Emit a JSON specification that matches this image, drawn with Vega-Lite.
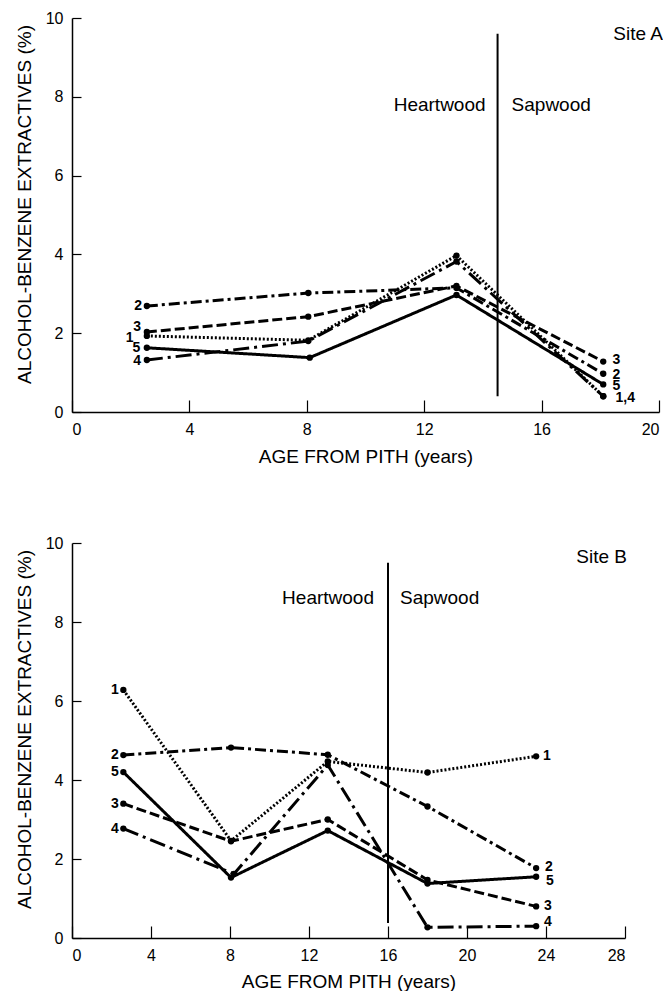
{
  "$schema": "https://vega.github.io/schema/vega-lite/v6.json",
  "background": "white",
  "padding": {"top": 10, "left": 15, "right": 0, "bottom": 0},
  "spacing": 69,
  "config": {
    "font": "Liberation Sans",
    "view": {"stroke": null},
    "axis": {
      "grid": false,
      "domainColor": "black",
      "domainWidth": 1.5,
      "tickColor": "black",
      "tickWidth": 1.2,
      "labelColor": "black",
      "titleColor": "black",
      "labelFontSize": 16,
      "titleFontSize": 19,
      "titleFontWeight": "normal",
      "labelFont": "Liberation Sans",
      "titleFont": "Liberation Sans"
    }
  },
  "datasets": {
    "curves": [
      {"site": "A", "series": "1", "age": 2.55, "value": 1.93},
      {"site": "A", "series": "1", "age": 8.05, "value": 1.82},
      {"site": "A", "series": "1", "age": 13.1, "value": 3.97},
      {"site": "A", "series": "1", "age": 18.1, "value": 0.4},
      {"site": "A", "series": "2", "age": 2.55, "value": 2.69},
      {"site": "A", "series": "2", "age": 8.05, "value": 3.02},
      {"site": "A", "series": "2", "age": 13.1, "value": 3.15},
      {"site": "A", "series": "2", "age": 18.1, "value": 0.97},
      {"site": "A", "series": "3", "age": 2.55, "value": 2.03},
      {"site": "A", "series": "3", "age": 8.05, "value": 2.42},
      {"site": "A", "series": "3", "age": 13.1, "value": 3.2},
      {"site": "A", "series": "3", "age": 18.1, "value": 1.28},
      {"site": "A", "series": "4", "age": 2.55, "value": 1.32},
      {"site": "A", "series": "4", "age": 8.05, "value": 1.8},
      {"site": "A", "series": "4", "age": 13.1, "value": 3.82},
      {"site": "A", "series": "4", "age": 18.1, "value": 0.4},
      {"site": "A", "series": "5", "age": 2.55, "value": 1.63},
      {"site": "A", "series": "5", "age": 8.1, "value": 1.38},
      {"site": "A", "series": "5", "age": 13.1, "value": 2.97},
      {"site": "A", "series": "5", "age": 18.1, "value": 0.7},
      {"site": "B", "series": "1", "age": 2.6, "value": 6.28},
      {"site": "B", "series": "1", "age": 8.05, "value": 2.46},
      {"site": "B", "series": "1", "age": 12.95, "value": 4.47},
      {"site": "B", "series": "1", "age": 18.0, "value": 4.19},
      {"site": "B", "series": "1", "age": 23.5, "value": 4.6},
      {"site": "B", "series": "2", "age": 2.6, "value": 4.63},
      {"site": "B", "series": "2", "age": 8.05, "value": 4.82},
      {"site": "B", "series": "2", "age": 12.95, "value": 4.64},
      {"site": "B", "series": "2", "age": 18.0, "value": 3.33},
      {"site": "B", "series": "2", "age": 23.5, "value": 1.77},
      {"site": "B", "series": "3", "age": 2.6, "value": 3.4},
      {"site": "B", "series": "3", "age": 8.05, "value": 2.45},
      {"site": "B", "series": "3", "age": 12.95, "value": 3.0},
      {"site": "B", "series": "3", "age": 18.0, "value": 1.47},
      {"site": "B", "series": "3", "age": 23.5, "value": 0.8},
      {"site": "B", "series": "4", "age": 2.6, "value": 2.77},
      {"site": "B", "series": "4", "age": 8.2, "value": 1.62},
      {"site": "B", "series": "4", "age": 12.95, "value": 4.38},
      {"site": "B", "series": "4", "age": 18.0, "value": 0.27},
      {"site": "B", "series": "4", "age": 23.5, "value": 0.3},
      {"site": "B", "series": "5", "age": 2.6, "value": 4.2},
      {"site": "B", "series": "5", "age": 8.05, "value": 1.53},
      {"site": "B", "series": "5", "age": 12.95, "value": 2.72},
      {"site": "B", "series": "5", "age": 18.0, "value": 1.38},
      {"site": "B", "series": "5", "age": 23.5, "value": 1.55}
    ],
    "tags": [
      {"site": "A", "tag": "2", "age": 2.25, "value": 2.7},
      {"site": "A", "tag": "3", "age": 2.22, "value": 2.15},
      {"site": "A", "tag": "1", "age": 1.96, "value": 1.88},
      {"site": "A", "tag": "5", "age": 2.19, "value": 1.62},
      {"site": "A", "tag": "4", "age": 2.22, "value": 1.29},
      {"site": "A", "tag": "3", "age": 18.55, "value": 1.31},
      {"site": "A", "tag": "2", "age": 18.55, "value": 0.95},
      {"site": "A", "tag": "5", "age": 18.55, "value": 0.66},
      {"site": "A", "tag": "1,4", "age": 18.85, "value": 0.35},
      {"site": "B", "tag": "1", "age": 2.17, "value": 6.29},
      {"site": "B", "tag": "2", "age": 2.17, "value": 4.63},
      {"site": "B", "tag": "5", "age": 2.17, "value": 4.19},
      {"site": "B", "tag": "3", "age": 2.17, "value": 3.4},
      {"site": "B", "tag": "4", "age": 2.17, "value": 2.76},
      {"site": "B", "tag": "1", "age": 24.05, "value": 4.6},
      {"site": "B", "tag": "2", "age": 24.15, "value": 1.8},
      {"site": "B", "tag": "5", "age": 24.2, "value": 1.45},
      {"site": "B", "tag": "3", "age": 24.1, "value": 0.8},
      {"site": "B", "tag": "4", "age": 24.1, "value": 0.4}
    ],
    "zones": [
      {"site": "A", "boundary": 14.5, "low": 0.4, "high": 9.6, "textY": 7.78, "siteLabel": "Site A", "siteX": 20, "siteY": 9.6},
      {"site": "B", "boundary": 16, "low": 0.38, "high": 9.5, "textY": 8.6, "siteLabel": "Site B", "siteX": 28, "siteY": 9.65}
    ]
  },
  "vconcat": [
    {
      "width": 587,
      "height": 394,
      "encoding": {
        "x": {"type": "quantitative", "scale": {"domain": [0, 20], "nice": false}, "axis": {"title": "AGE FROM PITH (years)", "values": [0, 4, 8, 12, 16, 20], "tickSize": -12, "labelPadding": 21, "titlePadding": 10}},
        "y": {"type": "quantitative", "scale": {"domain": [0, 10], "nice": false}, "axis": {"title": "ALCOHOL-BENZENE EXTRACTIVES (%)", "values": [0, 2, 4, 6, 8, 10], "tickSize": -9, "labelPadding": 18, "titlePadding": 11, "titleY": 186}}
      },
      "layer": [
        {
          "data": {"name": "curves"},
          "transform": [{"filter": "datum.site === 'A'"}],
          "mark": {"type": "line", "color": "black", "strokeWidth": 3, "strokeCap": "butt"},
          "encoding": {
            "x": {"field": "age"},
            "y": {"field": "value"},
            "detail": {"field": "series"},
            "strokeDash": {"field": "series", "type": "nominal", "scale": {"domain": ["1", "2", "3", "4", "5"], "range": [[2, 2], [11, 4, 3, 4], [10, 4], [16, 5, 3, 5], [1, 0]]}, "legend": null}
          }
        },
        {
          "data": {"name": "curves"},
          "transform": [{"filter": "datum.site === 'A'"}],
          "mark": {"type": "circle", "color": "black", "size": 40, "opacity": 1},
          "encoding": {"x": {"field": "age"}, "y": {"field": "value"}}
        },
        {
          "data": {"name": "zones"},
          "transform": [{"filter": "datum.site === 'A'"}],
          "mark": {"type": "rule", "color": "black", "strokeWidth": 2},
          "encoding": {"x": {"field": "boundary"}, "y": {"field": "low"}, "y2": {"field": "high"}}
        },
        {
          "data": {"name": "zones"},
          "transform": [{"filter": "datum.site === 'A'"}],
          "mark": {"type": "text", "text": "Heartwood", "align": "right", "baseline": "middle", "dx": -12, "fontSize": 19, "color": "black"},
          "encoding": {"x": {"field": "boundary"}, "y": {"field": "textY"}}
        },
        {
          "data": {"name": "zones"},
          "transform": [{"filter": "datum.site === 'A'"}],
          "mark": {"type": "text", "text": "Sapwood", "align": "left", "baseline": "middle", "dx": 14, "fontSize": 19, "color": "black"},
          "encoding": {"x": {"field": "boundary"}, "y": {"field": "textY"}}
        },
        {
          "data": {"name": "zones"},
          "transform": [{"filter": "datum.site === 'A'"}],
          "mark": {"type": "text", "align": "right", "baseline": "middle", "dx": 4, "fontSize": 19, "color": "black"},
          "encoding": {"x": {"field": "siteX"}, "y": {"field": "siteY"}, "text": {"field": "siteLabel"}}
        },
        {
          "data": {"name": "tags"},
          "transform": [{"filter": "datum.site === 'A'"}],
          "mark": {"type": "text", "align": "center", "baseline": "middle", "fontSize": 14, "fontWeight": "bold", "color": "black"},
          "encoding": {"x": {"field": "age"}, "y": {"field": "value"}, "text": {"field": "tag"}}
        }
      ]
    },
    {
      "width": 553,
      "height": 395,
      "encoding": {
        "x": {"type": "quantitative", "scale": {"domain": [0, 28], "nice": false}, "axis": {"title": "AGE FROM PITH (years)", "values": [0, 4, 8, 12, 16, 20, 24, 28], "tickSize": -12, "labelPadding": 21, "titlePadding": 9}},
        "y": {"type": "quantitative", "scale": {"domain": [0, 10], "nice": false}, "axis": {"title": "ALCOHOL-BENZENE EXTRACTIVES (%)", "values": [0, 2, 4, 6, 8, 10], "tickSize": -9, "labelPadding": 18, "titlePadding": 11, "titleY": 186}}
      },
      "layer": [
        {
          "data": {"name": "curves"},
          "transform": [{"filter": "datum.site === 'B'"}],
          "mark": {"type": "line", "color": "black", "strokeWidth": 3, "strokeCap": "butt"},
          "encoding": {
            "x": {"field": "age"},
            "y": {"field": "value"},
            "detail": {"field": "series"},
            "strokeDash": {"field": "series", "type": "nominal", "scale": {"domain": ["1", "2", "3", "4", "5"], "range": [[2, 2], [11, 4, 3, 4], [10, 4], [16, 5, 3, 5], [1, 0]]}, "legend": null}
          }
        },
        {
          "data": {"name": "curves"},
          "transform": [{"filter": "datum.site === 'B'"}],
          "mark": {"type": "circle", "color": "black", "size": 40, "opacity": 1},
          "encoding": {"x": {"field": "age"}, "y": {"field": "value"}}
        },
        {
          "data": {"name": "zones"},
          "transform": [{"filter": "datum.site === 'B'"}],
          "mark": {"type": "rule", "color": "black", "strokeWidth": 2},
          "encoding": {"x": {"field": "boundary"}, "y": {"field": "low"}, "y2": {"field": "high"}}
        },
        {
          "data": {"name": "zones"},
          "transform": [{"filter": "datum.site === 'B'"}],
          "mark": {"type": "text", "text": "Heartwood", "align": "right", "baseline": "middle", "dx": -14, "fontSize": 19, "color": "black"},
          "encoding": {"x": {"field": "boundary"}, "y": {"field": "textY"}}
        },
        {
          "data": {"name": "zones"},
          "transform": [{"filter": "datum.site === 'B'"}],
          "mark": {"type": "text", "text": "Sapwood", "align": "left", "baseline": "middle", "dx": 12, "fontSize": 19, "color": "black"},
          "encoding": {"x": {"field": "boundary"}, "y": {"field": "textY"}}
        },
        {
          "data": {"name": "zones"},
          "transform": [{"filter": "datum.site === 'B'"}],
          "mark": {"type": "text", "align": "right", "baseline": "middle", "dx": 2, "fontSize": 19, "color": "black"},
          "encoding": {"x": {"field": "siteX"}, "y": {"field": "siteY"}, "text": {"field": "siteLabel"}}
        },
        {
          "data": {"name": "tags"},
          "transform": [{"filter": "datum.site === 'B'"}],
          "mark": {"type": "text", "align": "center", "baseline": "middle", "fontSize": 14, "fontWeight": "bold", "color": "black"},
          "encoding": {"x": {"field": "age"}, "y": {"field": "value"}, "text": {"field": "tag"}}
        }
      ]
    }
  ]
}
